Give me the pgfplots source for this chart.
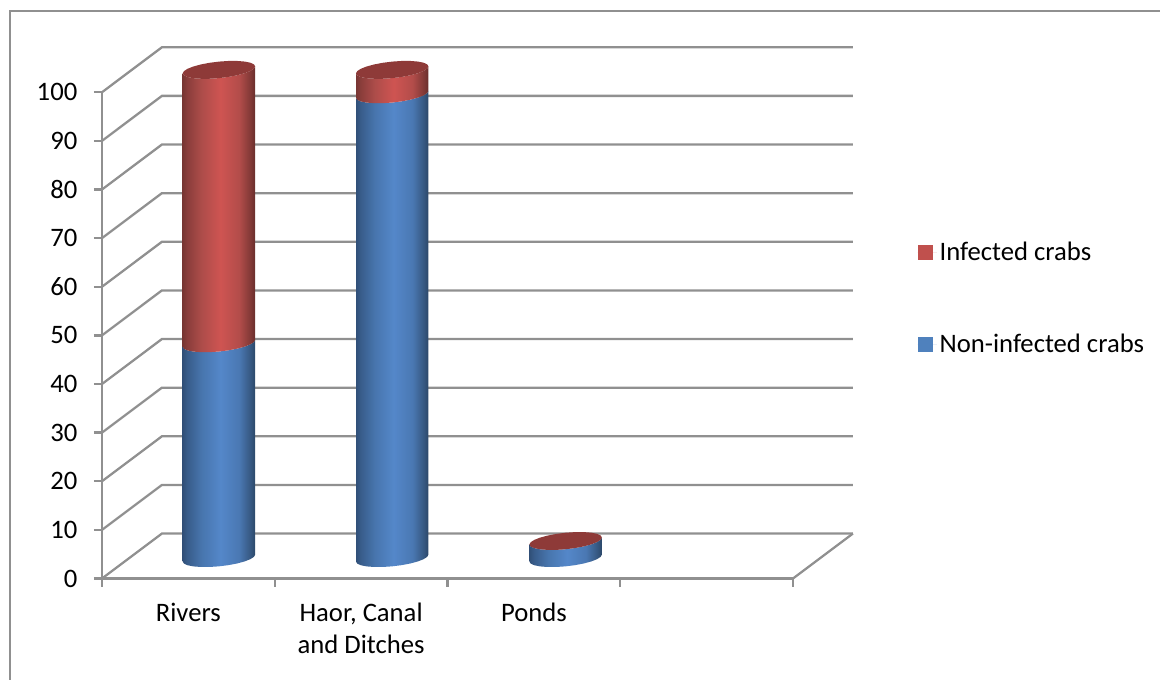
\documentclass[border=0pt]{standalone}
\usepackage{fontspec}
\setmainfont{Carlito}
\usepackage{pgfplots}
\usepackage{pgfplotstable}
\pgfplotsset{compat=1.18}

\definecolor{gridgray}{HTML}{909090}
\definecolor{infected}{HTML}{C0504D}
\definecolor{noninfected}{HTML}{4F81BD}
\definecolor{capred}{HTML}{8E3A38}

% Side lighting of the cylinder walls; a path's width spans 25bp to 75bp of the shading
\pgfdeclarehorizontalshading{bluewall}{100bp}{
  rgb(0bp)=(0.19,0.31,0.47);
  rgb(25bp)=(0.19,0.31,0.47);
  rgb(28bp)=(0.22,0.36,0.54);
  rgb(38bp)=(0.28,0.46,0.68);
  rgb(51bp)=(0.33,0.53,0.79);
  rgb(64bp)=(0.29,0.47,0.70);
  rgb(72bp)=(0.21,0.34,0.50);
  rgb(75bp)=(0.17,0.28,0.41);
  rgb(100bp)=(0.17,0.28,0.41)}
\pgfdeclarehorizontalshading{redwall}{100bp}{
  rgb(0bp)=(0.47,0.21,0.20);
  rgb(25bp)=(0.47,0.21,0.20);
  rgb(28bp)=(0.54,0.24,0.23);
  rgb(38bp)=(0.68,0.30,0.29);
  rgb(51bp)=(0.81,0.33,0.32);
  rgb(64bp)=(0.70,0.30,0.29);
  rgb(72bp)=(0.50,0.22,0.21);
  rgb(75bp)=(0.41,0.18,0.17);
  rgb(100bp)=(0.41,0.18,0.17)}

% Unit outline of a cylinder wall: front arc of the base (h=0), front arc of the top (h=1)
\pgfplotstableread{
c s h
-1.000 0.000 0
-0.966 -0.259 0
-0.866 -0.500 0
-0.707 -0.707 0
-0.500 -0.866 0
-0.259 -0.966 0
0.000 -1.000 0
0.259 -0.966 0
0.500 -0.866 0
0.707 -0.707 0
0.866 -0.500 0
0.966 -0.259 0
1.000 0.000 0
1.000 0.000 1
0.966 -0.259 1
0.866 -0.500 1
0.707 -0.707 1
0.500 -0.866 1
0.259 -0.966 1
0.000 -1.000 1
-0.259 -0.966 1
-0.500 -0.866 1
-0.707 -0.707 1
-0.866 -0.500 1
-0.966 -0.259 1
-1.000 0.000 1
}\wallunit

% Unit outline of a cylinder cap
\pgfplotstableread{
c s
1.000 0.000
0.966 0.259
0.866 0.500
0.707 0.707
0.500 0.866
0.259 0.966
0.000 1.000
-0.259 0.966
-0.500 0.866
-0.707 0.707
-0.866 0.500
-0.966 0.259
-1.000 0.000
-0.966 -0.259
-0.866 -0.500
-0.707 -0.707
-0.500 -0.866
-0.259 -0.966
0.000 -1.000
0.259 -0.966
0.500 -0.866
0.707 -0.707
0.866 -0.500
0.966 -0.259
}\capunit

% Cylinders stand mid-way along the depth of the floor
\newcommand{\wall}[4]{% category centre, lower value, upper value, shading
  \addplot[draw=none, shading=#4, forget plot] table[
    x expr={#1+0.177+0.2096*\thisrow{c}},
    y expr={4.2+1.004*((1-\thisrow{h})*#2+\thisrow{h}*#3)+1.7*\thisrow{s}+0.72*\thisrow{c}}
  ] {\wallunit} --cycle;
}
\newcommand{\cylcap}[2]{% category centre, value
  \addplot[draw=none, fill=capred, forget plot] table[
    x expr={#1+0.177+0.2096*\thisrow{c}},
    y expr={4.2+1.004*#2+1.7*\thisrow{s}+0.72*\thisrow{c}}
  ] {\capunit} --cycle;
}

\begin{document}
\begin{tikzpicture}[x=0.75pt,y=0.75pt]
\path[use as bounding box] (-102,-100.5) rectangle (1058,578.5);
\draw[gridgray, line width=1.7pt] (-92,-120) -- (-92,567.5) -- (1070,567.5);
\begin{axis}[
  at={(0,0)}, anchor=origin,
  scale only axis,
  width=518.25pt, height=364.7pt,
  xmin=0, xmax=4, ymin=0, ymax=100,
  clip=false,
  axis x line=bottom, axis y line=left,
  axis line style={-, gridgray, line width=1.7pt},
  tick style={gridgray, line width=1.7pt},
  tick align=outside,
  major tick length=6pt,
  xtick={0,1,2,3,4},
  x tick label as interval,
  xticklabels={Rivers,{Haor, Canal\\and Ditches},Ponds,{}},
  ytick={0,10,...,100},
  /pgf/number format/assume math mode=true,
  ticklabel style={font=\fontsize{20}{24}\selectfont, text=black},
  x tick label style={align=center, anchor=north, yshift=-9pt},
  y tick label style={anchor=east, xshift=-9pt},
  legend style={
    draw=none, fill=none,
    font=\fontsize{20}{24}\selectfont,
    row sep=49.5pt,
    legend cell align=left,
    at={(608.5pt,210pt)}, anchor=west
  },
  legend image code/.code={
    \fill[#1, draw=none] (0pt,-5.6pt) rectangle (11.2pt,5.6pt);
    \path[draw=none] (0pt,0pt) -- (14.5pt,0pt);
  }
]
  % Gridlines on the side wall and the back wall
  \pgfplotsinvokeforeach{0,10,...,100}{
    \addplot[gridgray, line width=1.7pt, forget plot] coordinates {
      (0,#1) (0.347,#1+9.25) (4.347,#1+9.25)
    };
  }
  % Right-hand edge of the floor
  \addplot[gridgray, line width=1.7pt, forget plot] coordinates {(4,0) (4.347,9.25)};

  % Rivers
  \wall{0.5}{0}{44}{bluewall}
  \wall{0.5}{44}{100}{redwall}
  \cylcap{0.5}{100}
  % Haor, Canal and Ditches
  \wall{1.503}{0}{95}{bluewall}
  \wall{1.503}{95}{100}{redwall}
  \cylcap{1.503}{100}
  % Ponds
  \wall{2.507}{0}{3.5}{bluewall}
  \cylcap{2.507}{3.5}

  \addlegendimage{infected, fill=infected}
  \addlegendentry{Infected crabs}
  \addlegendimage{noninfected, fill=noninfected}
  \addlegendentry{Non-infected crabs}
\end{axis}
\end{tikzpicture}
\end{document}
